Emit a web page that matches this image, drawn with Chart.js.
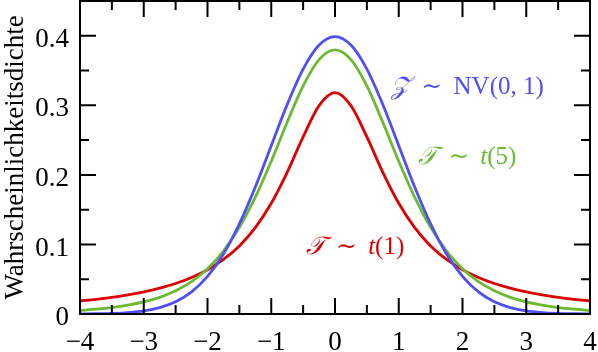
<!DOCTYPE html>
<html>
<head>
<meta charset="utf-8">
<script src="https://cdn.jsdelivr.net/npm/chart.js@4.4.1/dist/chart.umd.min.js"></script>
<style>
  html, body { margin: 0; padding: 0; background: #fff; }
  #wrap { width: 598px; height: 352px; }
</style>
</head>
<body>
<div id="wrap"><canvas id="density"></canvas></div>
<script>
// x positions where the curves were read
const xValues = [-4, -3.75, -3.5, -3.25, -3, -2.75, -2.5, -2.25, -2, -1.75, -1.5, -1.25, -1, -0.75, -0.5, -0.25,
  0, 0.25, 0.5, 0.75, 1, 1.25, 1.5, 1.75, 2, 2.25, 2.5, 2.75, 3, 3.25, 3.5, 3.75, 4];

// Z ~ NV(0,1)
const normalValues = [0.0001, 0.0004, 0.0009, 0.0020, 0.0044, 0.0091, 0.0175, 0.0317, 0.0540, 0.0863, 0.1295, 0.1826, 0.2420, 0.3011, 0.3521, 0.3867,
  0.3989, 0.3867, 0.3521, 0.3011, 0.2420, 0.1826, 0.1295, 0.0863, 0.0540, 0.0317, 0.0175, 0.0091, 0.0044, 0.0020, 0.0009, 0.0004, 0.0001];

// T ~ t(5)
const t5Values = [0.0051, 0.0069, 0.0092, 0.0126, 0.0173, 0.0239, 0.0333, 0.0466, 0.0651, 0.0905, 0.1245, 0.1679, 0.2197, 0.2757, 0.3279, 0.3657,
  0.3796, 0.3657, 0.3279, 0.2757, 0.2197, 0.1679, 0.1245, 0.0905, 0.0651, 0.0466, 0.0333, 0.0239, 0.0173, 0.0126, 0.0092, 0.0069, 0.0051];

// T ~ t(1)
const t1Values = [0.0187, 0.0211, 0.0240, 0.0275, 0.0318, 0.0372, 0.0439, 0.0525, 0.0637, 0.0784, 0.0979, 0.1242, 0.1592, 0.2037, 0.2546, 0.2996,
  0.3183, 0.2996, 0.2546, 0.2037, 0.1592, 0.1242, 0.0979, 0.0784, 0.0637, 0.0525, 0.0439, 0.0372, 0.0318, 0.0275, 0.0240, 0.0211, 0.0187];

const xTickLabels = ['\u22124', '\u22123', '\u22122', '\u22121', '0', '1', '2', '3', '4'];
const yTickLabels = ['0', '0.1', '0.2', '0.3', '0.4'];

const BLUE = '#4f4ff5';
const GREEN = '#6cba34';
const RED = '#dd0000';
const SERIF = '"Liberation Serif", "DejaVu Serif", serif';
const SIM = ' \u2009\u223C \u2009';

function toPoints(ys) {
  return xValues.map((x, i) => ({ x: x, y: ys[i] }));
}

// labels inside the plot, placed in data coordinates
const curveLabels = [
  { x: 0.88, y: 0.326, color: BLUE, parts: [['\uD835\uDCB5', 'italic'], [SIM, ''], ['NV(0, 1)', '']] },
  { x: 1.3, y: 0.225, color: GREEN, parts: [['\uD835\uDCAF', 'italic'], [SIM, ''], ['t', 'italic'], ['(5)', '']] },
  { x: -0.46, y: 0.096, color: RED, parts: [['\uD835\uDCAF', 'italic'], [SIM, ''], ['t', 'italic'], ['(1)', '']] }
];

// inward ticks on all four sides, plus the frame
const frameTicks = {
  id: 'frameTicks',
  afterDraw(chart) {
    const ctx = chart.ctx;
    const a = chart.chartArea;
    const xs = chart.scales.x;
    const ys = chart.scales.y;
    ctx.save();
    ctx.strokeStyle = '#000';
    ctx.lineWidth = 2;
    ctx.strokeRect(a.left, a.top, a.right - a.left, a.bottom - a.top);
    ctx.beginPath();
    xs.ticks.forEach(t => {
      const px = xs.getPixelForValue(t.value);
      const major = Math.abs(t.value - Math.round(t.value)) < 1e-6;
      const len = major ? 16 : 9;
      ctx.moveTo(px, a.bottom); ctx.lineTo(px, a.bottom - len);
      ctx.moveTo(px, a.top); ctx.lineTo(px, a.top + len);
    });
    ys.ticks.forEach(t => {
      const py = ys.getPixelForValue(t.value);
      const major = Math.abs(t.value * 10 - Math.round(t.value * 10)) < 1e-6;
      const len = major ? 16 : 9;
      ctx.moveTo(a.left, py); ctx.lineTo(a.left + len, py);
      ctx.moveTo(a.right, py); ctx.lineTo(a.right - len, py);
    });
    ctx.stroke();

    // curve labels
    ctx.textBaseline = 'middle';
    curveLabels.forEach(l => {
      let px = xs.getPixelForValue(l.x);
      const py = ys.getPixelForValue(l.y);
      ctx.fillStyle = l.color;
      l.parts.forEach(p => {
        ctx.font = (p[1] ? p[1] + ' ' : '') + '25px ' + SERIF;
        ctx.fillText(p[0], px, py);
        px += ctx.measureText(p[0]).width;
      });
    });
    ctx.restore();
  }
};

new Chart(document.getElementById('density'), {
  type: 'line',
  data: {
    datasets: [
      { label: 'NV(0,1)', data: toPoints(normalValues), borderColor: BLUE },
      { label: 't(5)', data: toPoints(t5Values), borderColor: GREEN },
      { label: 't(1)', data: toPoints(t1Values), borderColor: RED }
    ]
  },
  options: {
    responsive: true,
    maintainAspectRatio: false,
    animation: false,
    layout: { padding: { top: 1, right: 8, bottom: 0, left: 0 } },
    elements: {
      line: { borderWidth: 2.8, cubicInterpolationMode: 'monotone', fill: false },
      point: { radius: 0 }
    },
    plugins: {
      legend: { display: false },
      tooltip: { enabled: false }
    },
    scales: {
      x: {
        type: 'linear',
        min: -4,
        max: 4,
        grid: { display: false },
        border: { display: false },
        afterFit(scale) {
          scale.height = 38;
          scale.paddingLeft = 0;
          scale.paddingRight = 0;
        },
        ticks: {
          stepSize: 0.5,
          autoSkip: false,
          maxRotation: 0,
          padding: 5,
          color: '#000',
          font: { family: SERIF, size: 27 },
          callback(v) {
            const i = Math.round(v) + 4;
            return Math.abs(v - Math.round(v)) < 1e-6 ? xTickLabels[i] : '';
          }
        }
      },
      y: {
        min: 0,
        max: 0.45,
        grid: { display: false },
        border: { display: false },
        afterFit(scale) {
          scale.width = 80;
          scale.paddingTop = 0;
          scale.paddingBottom = 0;
        },
        title: {
          display: true,
          text: 'Wahrscheinlichkeitsdichte',
          color: '#000',
          font: { family: SERIF, size: 27 },
          padding: 0
        },
        ticks: {
          stepSize: 0.05,
          autoSkip: false,
          padding: 3,
          labelOffset: 4,
          color: '#000',
          font: { family: SERIF, size: 27 },
          callback(v) {
            const k = Math.round(v * 100);
            return (k % 10 === 0 && k <= 40) ? yTickLabels[k / 10] : '';
          }
        }
      }
    }
  },
  plugins: [frameTicks]
});
</script>
</body>
</html>
